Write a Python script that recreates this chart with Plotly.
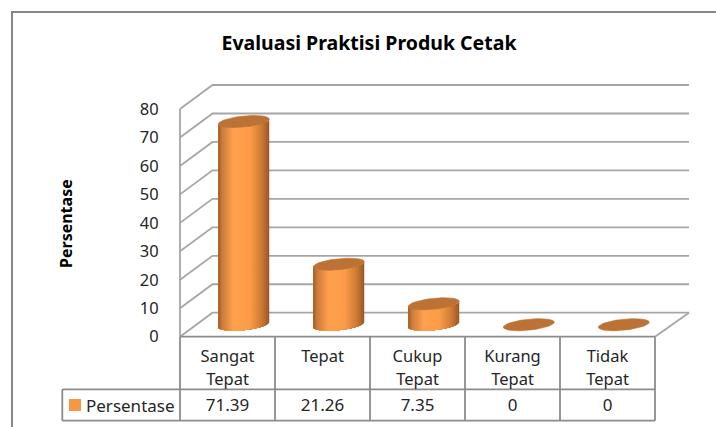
import numpy as np
import plotly.graph_objects as go

categories_top = ["Sangat", "Tepat", "Cukup", "Kurang", "Tidak"]
categories_bottom = ["Tepat", "", "Tepat", "Tepat", "Tepat"]
values = [71.39, 21.26, 7.35, 0, 0]
value_labels = ["71.39", "21.26", "7.35", "0", "0"]
y_ticks = [0, 10, 20, 30, 40, 50, 60, 70, 80]
series_name = "Persentase"
title = "Evaluasi Praktisi Produk Cetak"

W, H = 716, 427
FONT = "Noto Sans"
GRID = "#a6a6a6"
FRAME = "#868686"
TEXT = "#262626"

# one x unit is a category band, one y unit is a percent
PX_X = 95.0
PX_Y = 2.846
X0_PX = 180.0
Y0_PX = 336.7
DEPTH_X = 32.5 / PX_X
DEPTH_Y = 24 / PX_Y
RADIUS = 25.5 / PX_X
FLAT = 5.5 / PX_Y
TILT = 2.5 / PX_Y
N = len(values)


def px_x(px):
    return (px - X0_PX) / PX_X


def px_y(py):
    return (Y0_PX - py) / PX_Y


def ring(cx, cy, t):
    return cx + RADIUS * np.cos(t), cy + TILT * np.cos(t) + FLAT * np.sin(t)


def shade(u):
    stops = [0, 0.08, 0.3, 0.62, 0.85, 1]
    r = np.interp(u, stops, [158, 205, 255, 250, 205, 150])
    g = np.interp(u, stops, [94, 124, 160, 156, 122, 88])
    b = np.interp(u, stops, [40, 58, 78, 72, 52, 36])
    return f"rgb({r:.0f},{g:.0f},{b:.0f})"


def polyline(xs, ys, color, width=1.8):
    return go.Scatter(x=xs, y=ys, mode="lines", line=dict(color=color, width=width), hoverinfo="skip")


fig = go.Figure()

# walls and floor
wall_end = px_x(689)
wall_x, wall_y = [], []
for v in y_ticks:
    wall_x += [0, DEPTH_X, wall_end, None]
    wall_y += [v, v + DEPTH_Y, v + DEPTH_Y, None]
wall_x += [0, 0, None, N, wall_end, None]
wall_y += [0, y_ticks[-1], None, 0, DEPTH_Y, None]
fig.add_trace(polyline(wall_x, wall_y, GRID))

# table lines
row1 = px_y(389.3)
row2 = px_y(420.7)
left = px_x(62.3)
table_x = [0, N, None, left, N, None, left, N, None, left, left, None]
table_y = [0, 0, None, row1, row1, None, row2, row2, None, row1, row2, None]
for i in range(N + 1):
    table_x += [i, i, None]
    table_y += [0, row2, None]
fig.add_trace(polyline(table_x, table_y, "#8c8c8c"))

# cylinders: each shade paints from its edge to the far side, so no seams show
strips = 30
edges = np.arccos(np.linspace(1, -1, strips + 1))
for s in range(strips):
    ts = np.linspace(-edges[s], -np.pi, 40)
    xs, ys = [], []
    for i, v in enumerate(values):
        cx = i + 0.5 + DEPTH_X / 2
        cy = DEPTH_Y / 2
        bx, by = ring(cx, cy, ts)
        tx, ty = ring(cx, cy + v, ts[::-1])
        xs += list(bx) + list(tx) + [None]
        ys += list(by) + list(ty) + [None]
    color = shade(1 - (s + 0.5) / strips)
    fig.add_trace(go.Scatter(x=xs, y=ys, mode="none", fill="toself", fillcolor=color, hoverinfo="skip"))

# cylinder tops
ts = np.linspace(0, 2 * np.pi, 60)
top_x, top_y = [], []
for i, v in enumerate(values):
    x, y = ring(i + 0.5 + DEPTH_X / 2, DEPTH_Y / 2 + v, ts)
    top_x += list(x) + [None]
    top_y += list(y) + [None]
fig.add_trace(go.Scatter(x=top_x, y=top_y, mode="lines", fill="toself", fillcolor="#bc7234",
                         line=dict(color="#bc7234", width=0.6), hoverinfo="skip"))

# table text
band = [i + 0.5 for i in range(N)]
for labels, py, size in [(categories_top, 357.5, 16.5), (categories_bottom, 380.5, 16.5), (value_labels, 406.5, 17)]:
    fig.add_trace(go.Scatter(x=band, y=[px_y(py)] * N, mode="text", text=labels,
                             textfont=dict(family=FONT, size=size, color=TEXT), hoverinfo="skip"))

# legend key in the table
fig.add_trace(go.Scatter(x=[px_x(75)], y=[px_y(405)], mode="markers",
                         marker=dict(symbol="square", size=12, color="#f79646"), hoverinfo="skip"))
fig.add_annotation(x=px_x(86), y=px_y(405), text=series_name, showarrow=False, xanchor="left",
                   xshift=-2, font=dict(family=FONT, size=17, color=TEXT))

# axis title
fig.add_annotation(x=px_x(66), y=px_y(224), text=f"<b>{series_name}</b>", showarrow=False, textangle=-90,
                   font=dict(family=FONT, size=16, color="#000000"))

# outer frame, open to the right and bottom
fig.add_trace(polyline([px_x(12), px_x(12), px_x(W + 5)], [px_y(H + 5), px_y(12), px_y(12)], FRAME, 2))

fig.update_layout(
    width=W,
    height=H,
    margin=dict(l=0, r=0, t=0, b=0),
    paper_bgcolor="white",
    plot_bgcolor="white",
    showlegend=False,
    title=dict(text=f"<b>{title}</b>", x=369 / W, xanchor="center", y=1 - 43 / H, yanchor="middle",
               font=dict(family=FONT, size=19.5, color="#000000")),
    xaxis=dict(range=[px_x(0), px_x(W)], visible=False, fixedrange=True),
    yaxis=dict(
        range=[px_y(H), px_y(0)],
        tickmode="array",
        tickvals=y_ticks,
        ticks="outside",
        ticklen=18,
        tickcolor="rgba(0,0,0,0)",
        tickfont=dict(family=FONT, size=16.5, color=TEXT),
        showgrid=False,
        zeroline=False,
        showline=False,
        anchor="free",
        position=X0_PX / W,
        fixedrange=True,
    ),
)

fig.write_html("out.html", config={"displayModeBar": False}, post_script="document.body.style.margin='0';")
